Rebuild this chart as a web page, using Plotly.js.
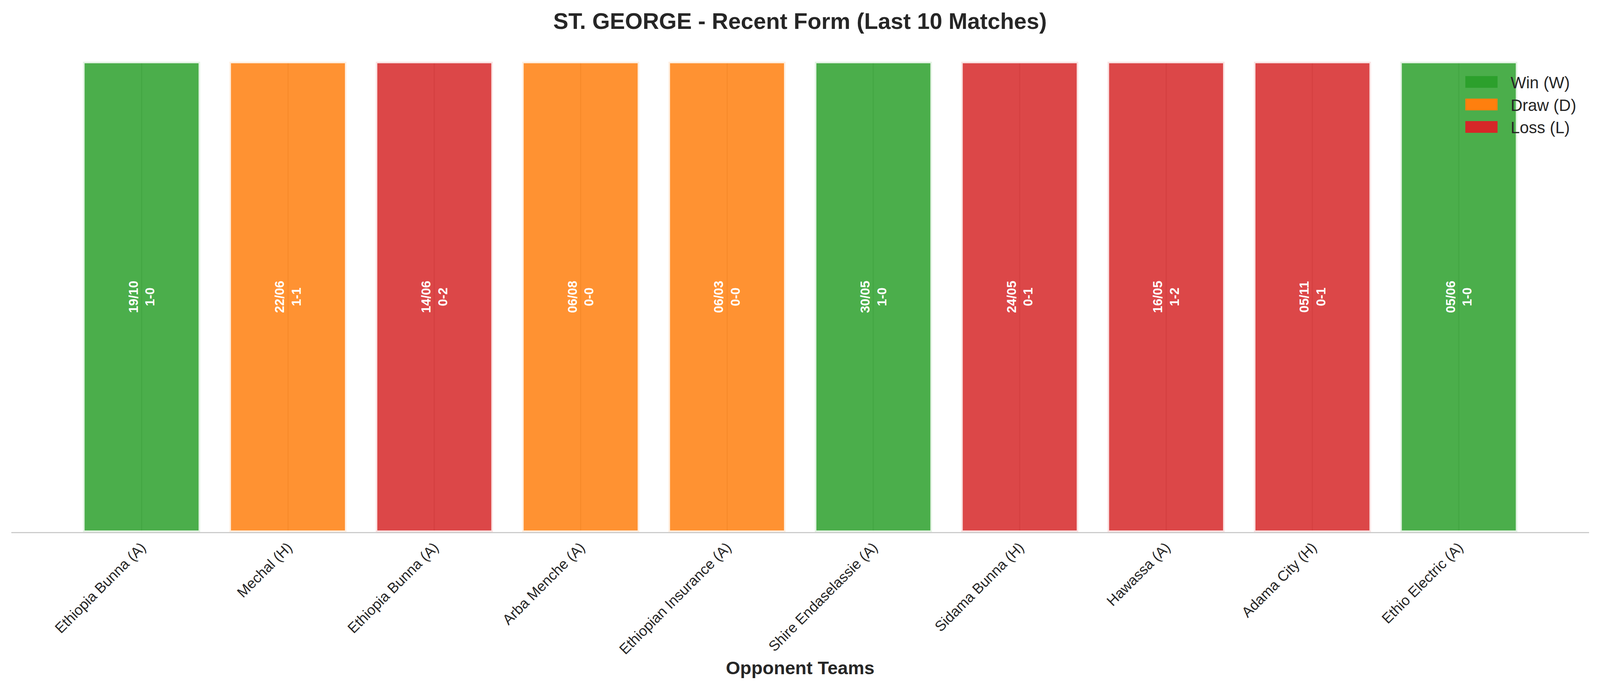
<!DOCTYPE html>
<html>
<head>
<meta charset="utf-8">
<script src="https://cdn.plot.ly/plotly-3.0.1.min.js"></script>
<style>
  html, body { margin: 0; padding: 0; background: #ffffff; overflow: hidden; }
</style>
</head>
<body>
<div id="chart"></div>
<script>
// ---- data ----
const opponents = [
  "Ethiopia Bunna (A)", "Mechal (H)", "Ethiopia Bunna (A)", "Arba Menche (A)",
  "Ethiopian Insurance (A)", "Shire Endaselassie (A)", "Sidama Bunna (H)",
  "Hawassa (A)", "Adama City (H)", "Ethio Electric (A)"
];
const dates   = ["19/10", "22/06", "14/06", "06/08", "06/03", "30/05", "24/05", "16/05", "05/11", "05/06"];
const scores  = ["1-0", "1-1", "0-2", "0-0", "0-0", "1-0", "0-1", "1-2", "0-1", "1-0"];
const results = ["W", "D", "L", "D", "D", "W", "L", "L", "L", "W"];
const formValue = [1, 1, 1, 1, 1, 1, 1, 1, 1, 1];
const resultNames = { W: "Win (W)", D: "Draw (D)", L: "Loss (L)" };
const resultOrder = ["W", "D", "L"];

// ---- styles ----
const solid = { W: "#2ca02c", D: "#ff7f0e", L: "#d62728" };
const faded = { W: "rgba(44,160,44,0.85)", D: "rgba(255,127,14,0.85)", L: "rgba(214,39,40,0.85)" };
const FONT = "Liberation Sans, Arial, Helvetica, sans-serif";
const TXT = "#262626";

// the page may be narrower than the nominal 4170 px; keep horizontal proportions
const W = window.innerWidth || 4170;
const H = window.innerHeight || 1769;
const sx = W / 4170;
const sy = H / 1769;
document.getElementById("chart").style.width = W + "px";
document.getElementById("chart").style.height = H + "px";

const idx = opponents.map((_, i) => i);

const traces = [{
  type: "bar",
  x: idx,
  y: formValue,
  width: 0.8,
  marker: {
    color: results.map(r => faded[r]),
    line: { color: "rgba(255,255,255,0.85)", width: 8 }
  },
  text: dates.map((d, i) => "<b>" + d + "<br>" + scores[i] + "</b>"),
  textposition: "inside",
  insidetextanchor: "middle",
  textangle: -90,
  textfont: { family: FONT, size: 33, color: "#ffffff" },
  constraintext: "none",
  cliponaxis: false,
  showlegend: false,
  hoverinfo: "x+text"
}];

resultOrder.forEach(r => {
  traces.push({
    type: "bar",
    x: [null],
    y: [null],
    name: resultNames[r],
    marker: { color: solid[r] },
    showlegend: true,
    hoverinfo: "skip"
  });
});

const layout = {
  width: W,
  height: H,
  margin: { l: 30 * sx, r: 29 * sx, t: 158 * sy, b: 407 * sy, pad: 0 },
  paper_bgcolor: "#ffffff",
  plot_bgcolor: "#ffffff",
  font: { family: FONT, color: TXT },
  title: {
    text: "<b>ST. GEORGE - Recent Form (Last 10 Matches)</b>",
    font: { family: FONT, size: 58, color: TXT },
    x: 0.5, xanchor: "center",
    y: 1 - 54 / 1769, yref: "container", yanchor: "middle"
  },
  barmode: "overlay",
  xaxis: {
    range: [-0.89, 9.89],
    tickmode: "array",
    tickvals: idx,
    ticktext: opponents,
    tickangle: -45,
    tickfont: { family: FONT, size: 37, color: TXT },
    ticks: "",
    showgrid: true,
    gridcolor: "#cccccc",
    gridwidth: 3,
    showline: true,
    linecolor: "#cccccc",
    linewidth: 3,
    zeroline: false,
    automargin: false,
    fixedrange: true,
    title: {
      text: "<b>Opponent Teams</b>",
      font: { family: FONT, size: 47, color: TXT },
      standoff: 12
    }
  },
  yaxis: {
    range: [0, 1],
    visible: false,
    showgrid: false,
    zeroline: false,
    fixedrange: true
  },
  legend: {
    x: 0.9, xanchor: "left",
    y: 0.985, yanchor: "top",
    bgcolor: "rgba(0,0,0,0)",
    borderwidth: 0,
    itemwidth: 125,
    font: { family: FONT, size: 42, color: TXT },
    traceorder: "normal"
  },
  showlegend: true
};

// enlarge the legend swatches to wide rectangular patches (style only),
// placed just left of each legend label
function widenLegendPatches(gd) {
  gd.querySelectorAll(".legend .traces").forEach(g => {
    const txt = g.querySelector(".legendtext");
    const path = g.querySelector(".legendpoints path");
    if (!txt || !path) return;
    const m = path.getScreenCTM();
    const gm = g.getScreenCTM();
    if (!m || !gm) return;
    const textLeft = txt.getBoundingClientRect().left;
    const PW = 84 * sx, PH = 30, GAP = 34 * sx;
    const x0 = (textLeft - GAP - PW - m.e) / m.a;
    const y0 = (gm.f - m.f) / m.d - PH / 2;
    path.setAttribute("d", "M" + x0 + "," + y0 + "h" + (PW / m.a) + "v" + PH + "h" + (-PW / m.a) + "Z");
    path.setAttribute("transform", path.getAttribute("transform") || "");
    path.style.strokeWidth = "0px";
  });
}

// place the legend so its labels start where the reference's do
function placeLegend(gd) {
  const t = gd.querySelector(".legend .legendtext");
  if (!t) return Promise.resolve(gd);
  const left = t.getBoundingClientRect().left;
  const target = 3937 * sx;
  const dx = target - left;
  if (Math.abs(dx) < 1) return Promise.resolve(gd);
  const newX = gd._fullLayout.legend.x + dx / gd._fullLayout._size.w;
  return Plotly.relayout(gd, { "legend.x": newX });
}

Plotly.newPlot("chart", traces, layout, { displayModeBar: false, staticPlot: true })
  .then(gd => placeLegend(gd))
  .then(() => widenLegendPatches(document.getElementById("chart")));
</script>
</body>
</html>
